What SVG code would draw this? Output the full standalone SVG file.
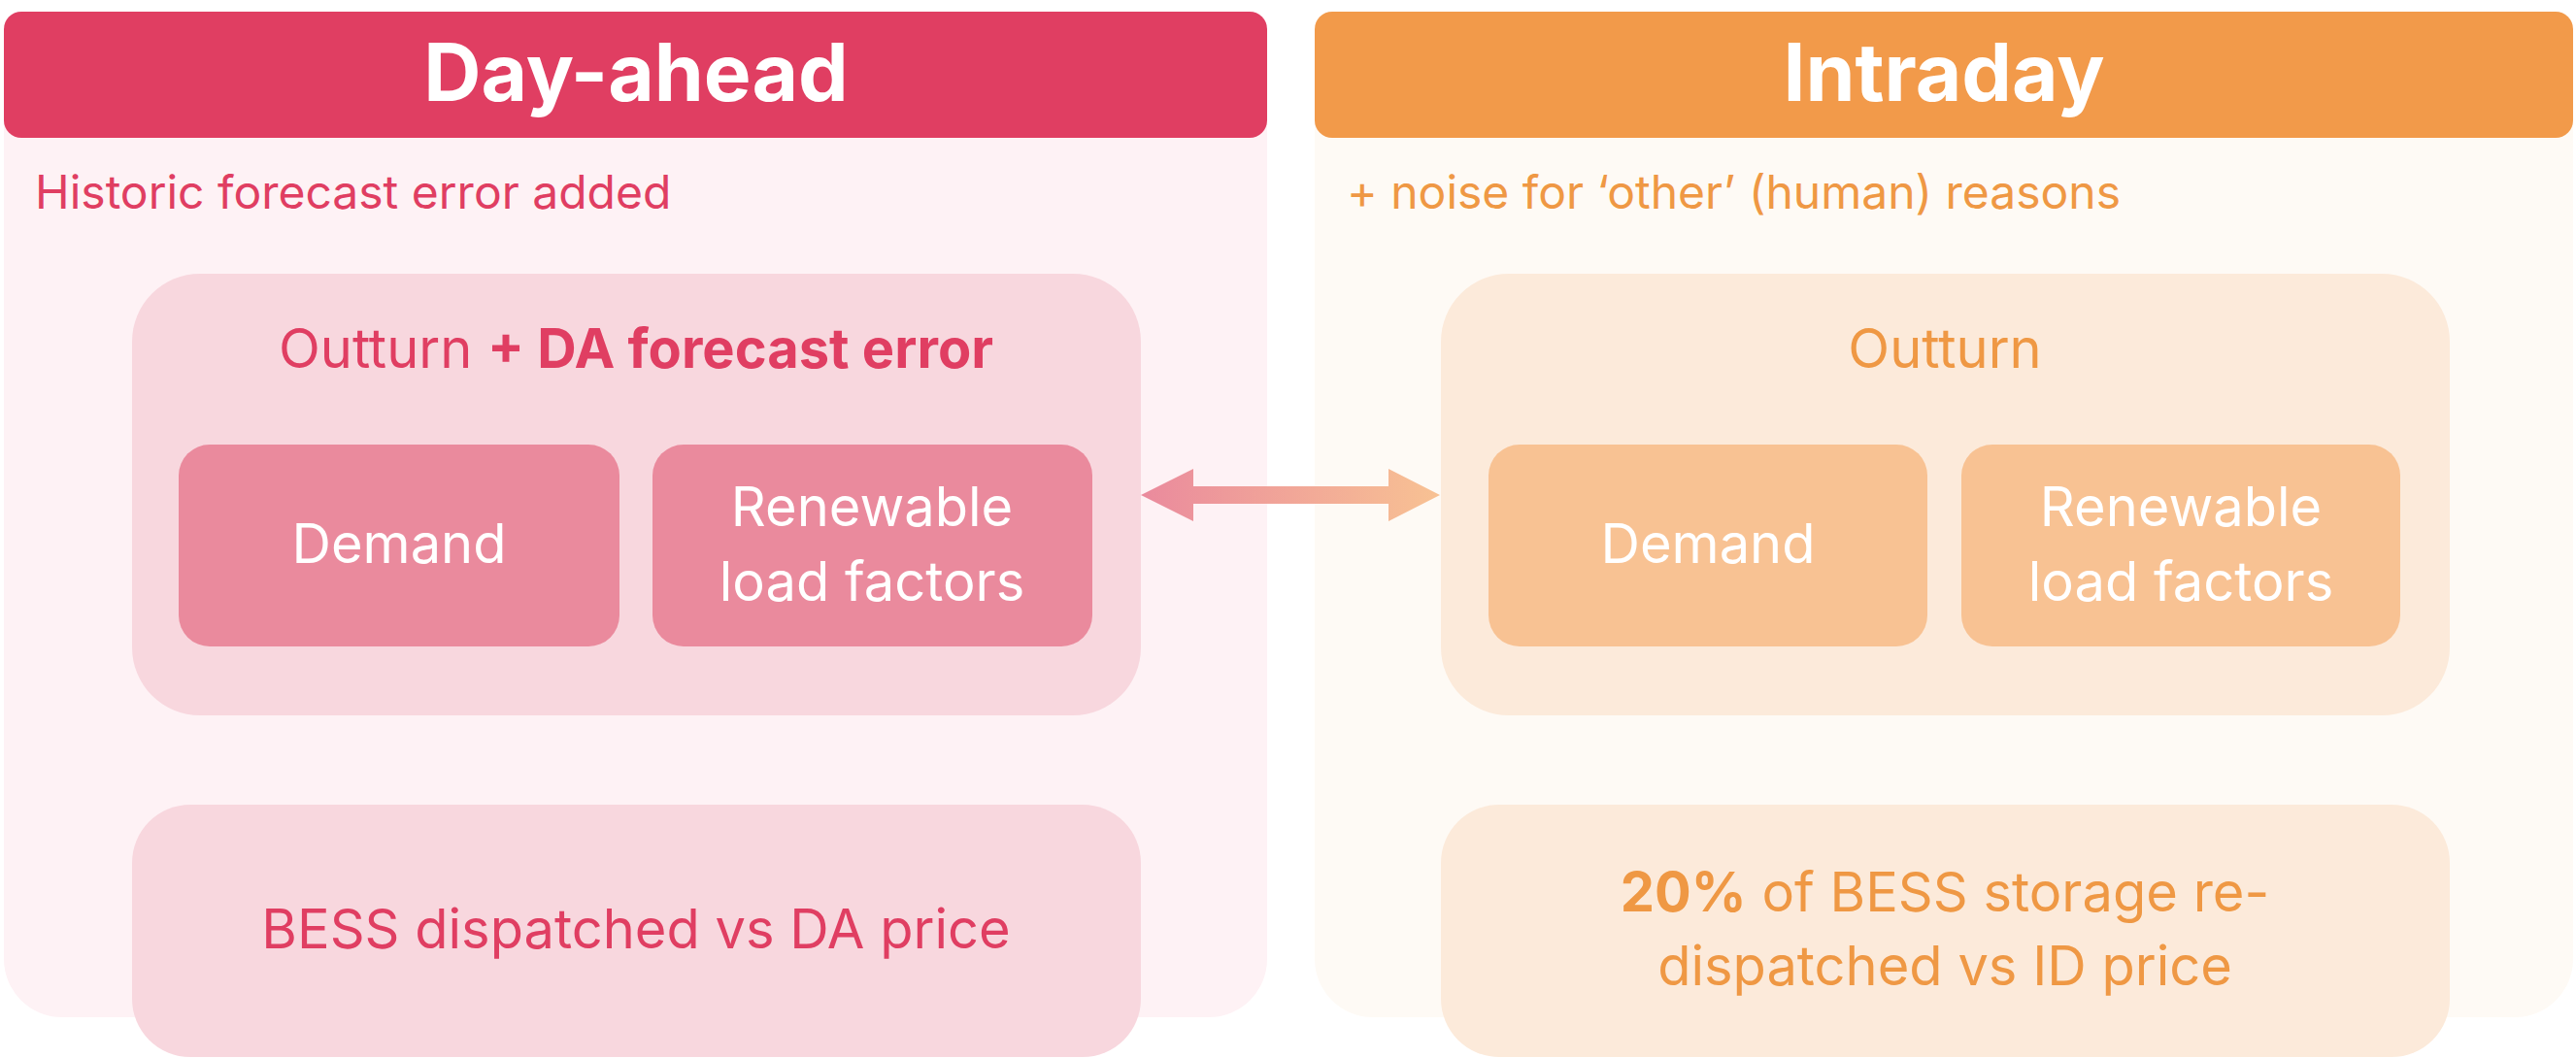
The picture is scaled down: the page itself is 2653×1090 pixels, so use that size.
<svg xmlns="http://www.w3.org/2000/svg" width="2653" height="1090" viewBox="0 0 2653 1090">
<style>
text{font-family:Inter,"Open Sans","Liberation Sans",sans-serif;text-anchor:middle}
.h{font-size:82px;font-weight:700;fill:#fff}
.r{fill:#E03E62}.o{fill:#EF9844}
.m{font-size:56px}
.s{font-size:48px;text-anchor:start}
.w{fill:#fff;font-size:56px}
</style>
<defs><linearGradient id="g" x1="1175" x2="1483" gradientUnits="userSpaceOnUse"><stop offset="0" stop-color="#EA8A9D"/><stop offset="1" stop-color="#F8C293"/></linearGradient></defs>
<g id="dayahead">
<rect x="4" y="60" width="1301" height="988" rx="60" fill="#FEF2F5"/>
<rect x="4" y="12" width="1301" height="130" rx="18" fill="#E03E62"/>
<text class="h" x="655" y="104">Day-ahead</text>
<text class="s r" x="36" y="215">Historic forecast error added</text>
</g>
<g id="da-outturn">
<rect x="136" y="282" width="1039" height="455" rx="70" fill="#F8D7DE"/>
<text class="m r" x="655" y="379">Outturn <tspan font-weight="700">+ DA forecast error</tspan></text>
</g>
<g id="da-demand"><rect x="184" y="458" width="454" height="208" rx="32" fill="#EA8A9D"/><text class="w" x="411" y="580">Demand</text></g>
<g id="da-renew"><rect x="672" y="458" width="453" height="208" rx="32" fill="#EA8A9D"/><text class="w" x="898" y="542">Renewable</text><text class="w" x="898" y="619">load factors</text></g>
<g id="da-bess"><rect x="136" y="829" width="1039" height="260" rx="60" fill="#F8D7DE"/><text class="m r" x="655" y="977">BESS dispatched vs DA price</text></g>
<g id="intraday">
<rect x="1354" y="60" width="1296" height="988" rx="60" fill="#FEFAF5"/>
<rect x="1354" y="12" width="1296" height="130" rx="18" fill="#F29A4A"/>
<text class="h" x="2002" y="104">Intraday</text>
<text class="s o" x="1387" y="215">+ noise for ‘other’ (human) reasons</text>
</g>
<g id="id-outturn"><rect x="1484" y="282" width="1039" height="455" rx="70" fill="#FCEADA"/><text class="m o" x="2003" y="379">Outturn</text></g>
<g id="id-demand"><rect x="1533" y="458" width="452" height="208" rx="32" fill="#F8C293"/><text class="w" x="1759" y="580">Demand</text></g>
<g id="id-renew"><rect x="2020" y="458" width="452" height="208" rx="32" fill="#F8C293"/><text class="w" x="2246" y="542">Renewable</text><text class="w" x="2246" y="619">load factors</text></g>
<g id="id-bess"><rect x="1484" y="829" width="1039" height="260" rx="60" fill="#FCEADA"/><text class="m o" x="2003" y="939"><tspan font-weight="700">20%</tspan> of BESS storage re-</text><text class="m o" x="2003" y="1015">dispatched vs ID price</text></g>
<g id="connectors"><polygon fill="url(#g)" points="1175,510 1229,483 1229,501 1430,501 1430,483 1483,510 1430,537 1430,519 1229,519 1229,537"/></g>
</svg>
